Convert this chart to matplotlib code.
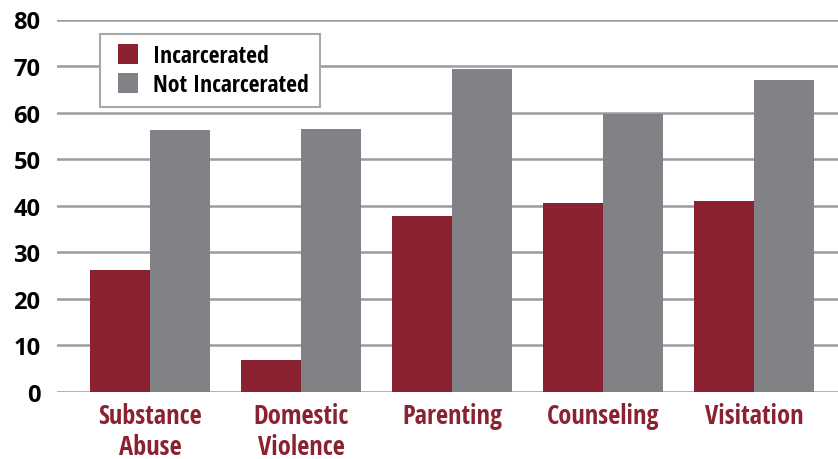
import matplotlib as mpl

mpl.use("Agg")

import matplotlib.pyplot as plt
import numpy as np
from matplotlib.lines import Line2D

categories = ["Substance\nAbuse", "Domestic\nViolence", "Parenting", "Counseling", "Visitation"]
incarcerated = [26.2, 6.9, 37.8, 40.6, 41.0]
not_incarcerated = [56.2, 56.4, 69.3, 59.7, 67.0]
series_names = ["Incarcerated", "Not Incarcerated"]
y_ticks = [0, 10, 20, 30, 40, 50, 60, 70, 80]

RED = "#8b2232"
GRAY = "#818286"
GRID = "#9c9c9e"
COND = ["Open Sans Condensed", "DejaVu Sans"]

fig = plt.figure(figsize=(8.38, 4.60), dpi=100)
ax = fig.add_axes([57 / 838, 67 / 460, 781 / 838, 372.5 / 460])

x = np.arange(len(categories))
width = 0.398
ax.bar(x - width / 2, incarcerated, width, color=RED, zorder=2)
ax.bar(x + width / 2, not_incarcerated, width, color=GRAY, zorder=2)

ax.set_xlim(-0.616, 4.556)
ax.set_ylim(0, 80)
ax.set_yticks(y_ticks)
ax.set_yticklabels([str(v) for v in y_ticks], fontfamily="Open Sans",
                   fontweight="bold", fontsize=17, color="black")
ax.set_xticks(x)
ax.set_xticklabels(categories, fontfamily=COND, fontweight="bold",
                   fontsize=19, color=RED, linespacing=1.2)
ax.tick_params(axis="both", length=0)
ax.tick_params(axis="y", pad=12)
ax.tick_params(axis="x", pad=7)
for spine in ax.spines.values():
    spine.set_visible(False)
ax.yaxis.grid(True, color=GRID, lw=1.8, zorder=1)
ax.set_axisbelow(True)

# square swatches, placed like the original legend
handles = [Line2D([], [], ls="none", marker="s", markersize=14.4, color=c, mew=0)
           for c in (RED, GRAY)]
leg = ax.legend(handles, series_names, loc="upper left",
                bbox_to_anchor=(43 / 781, 1 - 14 / 372.5),
                frameon=True, fancybox=False, handlelength=1.5,
                handletextpad=0.3, borderpad=0.45, labelspacing=0.2,
                borderaxespad=0,
                prop={"family": COND, "weight": "bold", "size": 17})
leg.get_frame().set_edgecolor("#a8a8aa")
leg.get_frame().set_linewidth(1.5)
leg.get_frame().set_alpha(1)

fig.savefig("out.png", dpi=100)
